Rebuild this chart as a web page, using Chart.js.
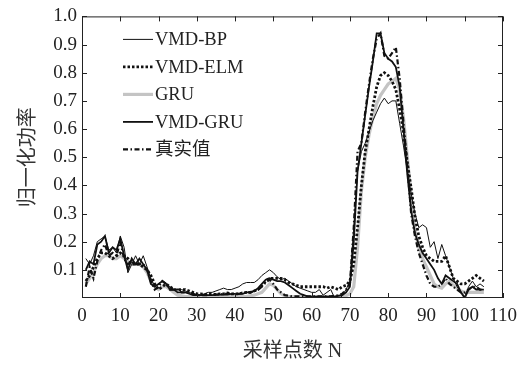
<!DOCTYPE html>
<html>
<head>
<meta charset="utf-8">
<script src="https://cdn.jsdelivr.net/npm/chart.js@4.4.0/dist/chart.umd.min.js"></script>
<style>
  html, body { margin: 0; padding: 0; background: #fff; }
</style>
</head>
<body>
<canvas id="power-chart" width="531" height="365"></canvas>
<script>
// sample index N = 1..105
const sampleN = [
  1, 2, 3, 4, 5, 6, 7, 8, 9, 10, 11, 12, 13, 14, 15, 16, 17, 18, 19, 20,
  21, 22, 23, 24, 25, 26, 27, 28, 29, 30, 31, 32, 33, 34, 35, 36, 37, 38, 39, 40,
  41, 42, 43, 44, 45, 46, 47, 48, 49, 50, 51, 52, 53, 54, 55, 56, 57, 58, 59, 60,
  61, 62, 63, 64, 65, 66, 67, 68, 69, 70, 71, 72, 73, 74, 75, 76, 77, 78, 79, 80,
  81, 82, 83, 84, 85, 86, 87, 88, 89, 90, 91, 92, 93, 94, 95, 96, 97, 98, 99, 100,
  101, 102, 103, 104, 105
];

const vmdBp = [
  0.14, 0.12, 0.15, 0.20, 0.21, 0.22, 0.17, 0.18, 0.16, 0.22,
  0.18, 0.09, 0.12, 0.15, 0.12, 0.15, 0.11, 0.07, 0.04, 0.05,
  0.06, 0.05, 0.04, 0.03, 0.03, 0.03, 0.025, 0.02, 0.015, 0.01,
  0.01, 0.015, 0.02, 0.02, 0.025, 0.03, 0.035, 0.03, 0.03, 0.035,
  0.04, 0.05, 0.055, 0.055, 0.055, 0.065, 0.08, 0.09, 0.10, 0.09,
  0.075, 0.065, 0.07, 0.06, 0.05, 0.04, 0.035, 0.03, 0.025, 0.02,
  0.02, 0.03, 0.01, 0.02, 0.03, 0.0, -0.015, 0.01, 0.03, 0.06,
  0.25, 0.45, 0.52, 0.55, 0.59, 0.63, 0.66, 0.69, 0.71, 0.69,
  0.70, 0.70, 0.62, 0.54, 0.45, 0.37, 0.30, 0.25, 0.26, 0.25,
  0.18, 0.20, 0.14, 0.19, 0.15, 0.11, 0.07, 0.04, 0.02, 0.005,
  0.04, 0.06, 0.04, 0.05, 0.04
];

const vmdElm = [
  0.06, 0.08, 0.11, 0.14, 0.16, 0.16, 0.15, 0.14, 0.15, 0.16,
  0.15, 0.14, 0.12, 0.12, 0.12, 0.11, 0.10, 0.08, 0.05, 0.03,
  0.04, 0.05, 0.04, 0.03, 0.03, 0.03, 0.03, 0.025, 0.02, 0.015,
  0.015, 0.012, 0.015, 0.015, 0.012, 0.015, 0.015, 0.018, 0.015, 0.015,
  0.015, 0.018, 0.02, 0.02, 0.025, 0.03, 0.045, 0.06, 0.07, 0.07,
  0.07, 0.07, 0.065, 0.055, 0.05, 0.045, 0.04, 0.04, 0.04, 0.04,
  0.04, 0.04, 0.04, 0.035, 0.04, 0.035, 0.03, 0.04, 0.045, 0.06,
  0.12, 0.25, 0.40, 0.52, 0.60, 0.68, 0.75, 0.79, 0.80, 0.79,
  0.77, 0.74, 0.67, 0.59, 0.48, 0.39, 0.29, 0.22, 0.18, 0.15,
  0.14, 0.13, 0.13, 0.13, 0.15, 0.11, 0.07, 0.06, 0.05, 0.05,
  0.06, 0.07, 0.08, 0.07, 0.06
];

const gru = [
  0.05, 0.07, 0.09, 0.12, 0.14, 0.15, 0.15, 0.14, 0.14, 0.15,
  0.14, 0.13, 0.12, 0.12, 0.12, 0.11, 0.09, 0.06, 0.04, 0.03,
  0.04, 0.04, 0.03, 0.02, 0.01, 0.008, 0.005, 0.005, 0.003, 0.003,
  0.003, 0.003, 0.005, 0.005, 0.005, 0.005, 0.005, 0.005, 0.005, 0.005,
  0.005, 0.005, 0.006, 0.008, 0.01, 0.015, 0.02, 0.035, 0.05, 0.045,
  0.03, 0.015, 0.008, 0.005, 0.005, 0.005, 0.005, 0.005, 0.005, 0.005,
  0.005, 0.005, 0.005, 0.005, 0.005, 0.005, 0.005, 0.005, 0.008, 0.015,
  0.04, 0.18, 0.38, 0.50, 0.58, 0.64, 0.69, 0.72, 0.74, 0.76,
  0.77, 0.78, 0.74, 0.64, 0.50, 0.36, 0.24, 0.18, 0.14, 0.11,
  0.08, 0.05, 0.04, 0.035, 0.05, 0.06, 0.045, 0.035, 0.025, 0.02,
  0.02, 0.02, 0.02, 0.02, 0.02
];

const vmdGru = [
  0.10, 0.13, 0.12, 0.19, 0.20, 0.22, 0.16, 0.18, 0.17, 0.21,
  0.15, 0.10, 0.14, 0.12, 0.14, 0.12, 0.10, 0.05, 0.04, 0.05,
  0.06, 0.05, 0.03, 0.03, 0.02, 0.02, 0.02, 0.015, 0.01, 0.01,
  0.01, 0.01, 0.01, 0.01, 0.012, 0.012, 0.012, 0.012, 0.015, 0.015,
  0.015, 0.015, 0.02, 0.02, 0.025, 0.035, 0.05, 0.065, 0.07, 0.065,
  0.06, 0.06, 0.055, 0.045, 0.035, 0.025, 0.015, 0.01, 0.005, 0.005,
  0.005, 0.005, 0.005, 0.005, 0.005, 0.005, 0.008, 0.01, 0.02, 0.04,
  0.20, 0.45, 0.55, 0.65, 0.75, 0.84, 0.94, 0.94, 0.87, 0.85,
  0.84, 0.82, 0.75, 0.60, 0.44, 0.31, 0.23, 0.19, 0.16, 0.14,
  0.12, 0.10, 0.07, 0.05, 0.08, 0.07, 0.06, 0.05, 0.02, 0.0,
  0.03, 0.04, 0.03, 0.03, 0.03
];

const actual = [
  0.04, 0.11, 0.07, 0.13, 0.17, 0.19, 0.15, 0.16, 0.15, 0.20,
  0.14, 0.12, 0.13, 0.12, 0.12, 0.12, 0.10, 0.06, 0.03, 0.04,
  0.06, 0.05, 0.03, 0.03, 0.03, 0.02, 0.02, 0.02, 0.015, 0.01,
  0.01, 0.01, 0.01, 0.012, 0.012, 0.012, 0.015, 0.015, 0.015, 0.015,
  0.015, 0.018, 0.02, 0.02, 0.025, 0.03, 0.04, 0.055, 0.065, 0.05,
  0.03, 0.02, 0.01, 0.008, 0.006, 0.006, 0.006, 0.006, 0.006, 0.006,
  0.006, 0.006, 0.006, 0.006, 0.006, 0.008, 0.01, 0.015, 0.03, 0.05,
  0.25, 0.52, 0.55, 0.66, 0.76, 0.85, 0.92, 0.94, 0.86, 0.85,
  0.87, 0.89, 0.78, 0.62, 0.47, 0.30, 0.22, 0.16, 0.12, 0.08,
  0.05, 0.04, 0.04, 0.05, 0.07, 0.05, 0.04, 0.03, 0.02, 0.02,
  0.03, 0.04, 0.04, 0.03, 0.03
];

const seriesNames = ['VMD-BP', 'VMD-ELM', 'GRU', 'VMD-GRU', '真实值'];
const xTickValues = [0, 10, 20, 30, 40, 50, 60, 70, 80, 90, 100, 110];
const yTickValues = [0.1, 0.2, 0.3, 0.4, 0.5, 0.6, 0.7, 0.8, 0.9, 1.0];

const toPoints = vals => sampleN.map((n, i) => ({ x: n, y: vals[i] }));
const serif = '"Liberation Serif", "Noto Sans CJK SC", serif';
const ink = '#222';

// box, inward ticks and the in-plot legend
const frameAndLegend = {
  id: 'frameAndLegend',
  afterDatasetsDraw(chart) {
    const { ctx, chartArea: a, scales } = chart;
    ctx.save();
    ctx.strokeStyle = ink;
    ctx.lineWidth = 1;
    ctx.setLineDash([]);
    ctx.strokeRect(a.left + 0.5, a.top + 0.5, a.right - a.left - 1, a.bottom - a.top - 1);
    ctx.beginPath();
    xTickValues.forEach(v => {
      const px = Math.round(scales.x.getPixelForValue(v)) + 0.5;
      ctx.moveTo(px, a.bottom); ctx.lineTo(px, a.bottom - 5);
      ctx.moveTo(px, a.top); ctx.lineTo(px, a.top + 5);
    });
    yTickValues.forEach(v => {
      const py = Math.round(scales.y.getPixelForValue(v)) + 0.5;
      ctx.moveTo(a.left, py); ctx.lineTo(a.left + 5, py);
      ctx.moveTo(a.right, py); ctx.lineTo(a.right - 5, py);
    });
    ctx.stroke();

    // legend
    ctx.font = '18.5px ' + serif;
    ctx.fillStyle = ink;
    ctx.textBaseline = 'middle';
    ctx.textAlign = 'left';
    chart.data.datasets.forEach((ds, i) => {
      const y = a.top + 23 + i * 27.5;
      ctx.beginPath();
      ctx.strokeStyle = ds.borderColor;
      ctx.lineWidth = ds.borderWidth;
      ctx.lineCap = 'butt';
      ctx.setLineDash(ds.borderDash || []);
      ctx.moveTo(a.left + 41, y);
      ctx.lineTo(a.left + 71, y);
      ctx.stroke();
      ctx.setLineDash([]);
      ctx.fillText(ds.label, a.left + 73, y + 1);
    });
    ctx.restore();
  }
};

new Chart(document.getElementById('power-chart').getContext('2d'), {
  type: 'line',
  data: {
    datasets: [
      { label: seriesNames[0], data: toPoints(vmdBp), borderColor: '#111', borderWidth: 1, order: 3 },
      { label: seriesNames[1], data: toPoints(vmdElm), borderColor: '#111', borderWidth: 2.8, borderDash: [2.5, 2], order: 4 },
      { label: seriesNames[2], data: toPoints(gru), borderColor: '#c4c4c4', borderWidth: 3.2, order: 5 },
      { label: seriesNames[3], data: toPoints(vmdGru), borderColor: '#111', borderWidth: 1.8, order: 1 },
      { label: seriesNames[4], data: toPoints(actual), borderColor: '#111', borderWidth: 2.2, borderDash: [5, 2.5, 1.5, 2.5], order: 2 }
    ]
  },
  options: {
    responsive: false,
    animation: false,
    layout: { padding: { left: 0, right: 28, top: 14, bottom: 0 } },
    elements: { point: { radius: 0 }, line: { tension: 0, fill: false } },
    plugins: { legend: { display: false }, tooltip: { enabled: false } },
    scales: {
      x: {
        type: 'linear',
        min: 0,
        max: 110,
        grid: { display: false, drawTicks: false },
        border: { display: false },
        afterBuildTicks: scale => { scale.ticks = xTickValues.map(v => ({ value: v })); },
        afterFit: scale => { scale.height = 67; },
        ticks: {
          autoSkip: false,
          maxRotation: 0,
          padding: 7,
          color: ink,
          font: { family: serif, size: 19 },
          callback: v => String(v)
        },
        title: {
          display: true,
          text: '采样点数 N',
          color: '#333',
          font: { family: serif, size: 20 },
          padding: { top: 0, bottom: 1 }
        }
      },
      y: {
        min: 0,
        max: 1,
        grid: { display: false, drawTicks: false },
        border: { display: false },
        afterBuildTicks: scale => { scale.ticks = yTickValues.map(v => ({ value: v })); },
        afterFit: scale => { scale.width = 82; },
        ticks: {
          padding: 5,
          color: ink,
          font: { family: serif, size: 19 },
          callback: v => v.toFixed(1)
        },
        title: {
          display: true,
          text: '归一化功率',
          color: '#333',
          font: { family: serif, size: 20 },
          padding: { top: 17, bottom: 0 }
        }
      }
    }
  },
  plugins: [frameAndLegend]
});
</script>
</body>
</html>
